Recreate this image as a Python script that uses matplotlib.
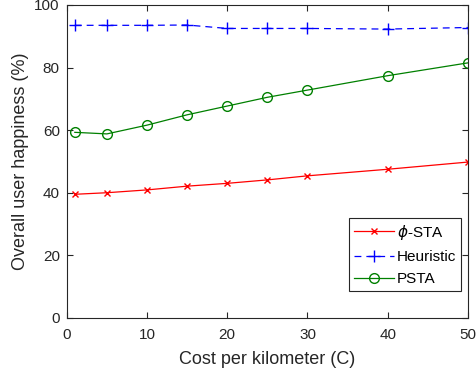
import matplotlib
matplotlib.use('Agg')
import matplotlib.pyplot as plt

plt.rcParams['font.family'] = ['Liberation Sans', 'DejaVu Sans']
plt.rcParams['mathtext.fontset'] = 'dejavusans'

# Datos
coste = [1, 5, 10, 15, 20, 25, 30, 40, 50]
phi_sta = [39.5, 40.0, 40.9, 42.1, 43.0, 44.1, 45.4, 47.5, 49.8]
heuristic = [93.5, 93.5, 93.5, 93.6, 92.5, 92.5, 92.5, 92.3, 92.8]
psta = [59.3, 58.8, 61.6, 64.9, 67.7, 70.5, 72.8, 77.4, 81.5]

fig = plt.figure(figsize=(4.77, 3.83), dpi=100)
ax = fig.add_axes([0.140, 0.170, 0.841, 0.817])

ax.plot(coste, phi_sta, color='red', marker='x', ms=5, lw=0.9, label=r'$\phi$-STA')
ax.plot(coste, heuristic, color='blue', marker='+', ms=8, lw=0.9, ls=(0, (5.5, 4)), label='Heuristic')
ax.plot(coste, psta, color='green', marker='o', ms=7, mfc='none', lw=0.9, label='PSTA')

ax.set_xlim(0, 50)
ax.set_ylim(0, 100)
ax.set_xticks([0, 10, 20, 30, 40, 50])
ax.set_yticks([0, 20, 40, 60, 80, 100])
ax.tick_params(direction='in', top=True, right=True, labelsize=11, colors='#262626', length=4)
ax.tick_params(axis='x', pad=7)
ax.tick_params(axis='y', pad=5)
for s in ax.spines.values():
    s.set_color('#262626')
    s.set_linewidth(0.8)

ax.set_xlabel('Cost per kilometer (C)', fontsize=13, color='#262626', labelpad=7)
ax.set_ylabel('Overall user happiness (%)', fontsize=13, color='#262626', labelpad=4)

leg = ax.legend(loc='upper right', bbox_to_anchor=(0.982, 0.319), fontsize=11,
                fancybox=False, framealpha=1, edgecolor='#262626',
                borderpad=0.3, labelspacing=0.55, handlelength=2.6, handletextpad=0.2,
                borderaxespad=0)
leg.get_frame().set_linewidth(0.8)

plt.savefig('out.png', dpi=100)
